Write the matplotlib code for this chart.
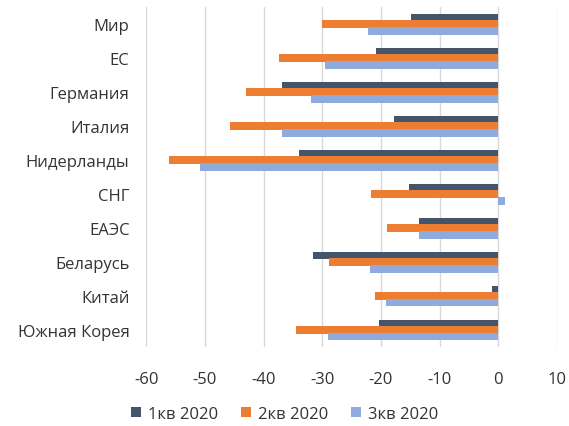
import numpy as np
import matplotlib
matplotlib.use("Agg")
import matplotlib.pyplot as plt

plt.rcParams['font.family'] = ['Open Sans', 'DejaVu Sans']
plt.rcParams['axes.unicode_minus'] = False

countries = ["Мир", "ЕС", "Германия", "Италия", "Нидерланды", "СНГ", "ЕАЭС",
             "Беларусь", "Китай", "Южная Корея"]
series_names = ["1кв 2020", "2кв 2020", "3кв 2020"]
q1 = [-14.9, -20.8, -36.9, -17.7, -33.9, -15.3, -13.6, -31.6, -1.0, -20.4]
q2 = [-30.1, -37.3, -43.0, -45.7, -56.1, -21.7, -19.0, -28.9, -21.1, -34.4]
q3 = [-22.2, -29.5, -32.0, -36.9, -50.9, 1.1, -13.6, -21.8, -19.1, -29.1]
colors = ["#44546A", "#ED7D31", "#8FAADC"]
txt = '#333333'

fig = plt.figure(figsize=(5.69, 4.27), dpi=100)
ax = fig.add_axes([0.257, 0.185, 0.722, 0.796])

y = np.arange(len(countries))
h = 0.2
for i, (vals, name, c) in enumerate(zip([q1, q2, q3], series_names, colors)):
    ax.barh(y + (i - 1) * h, vals, height=h * 1.08, color=c, label=name, zorder=2 + i)

ax.set_xlim(-60, 10)
ax.set_ylim(len(countries) - 0.5, -0.5)
ax.set_xticks(range(-60, 11, 10))
ax.set_yticks(y)
ax.set_yticklabels(countries)
ax.grid(axis='x', color='#D9D9D9', linewidth=1, zorder=0)
ax.set_axisbelow(True)
for s in ax.spines.values():
    s.set_visible(False)
ax.tick_params(axis='both', length=0, labelsize=12, colors=txt)
ax.tick_params(axis='x', pad=17)
ax.tick_params(axis='y', pad=12)

fig.legend(loc='lower center', bbox_to_anchor=(0.5, -0.025), ncol=3, frameon=False,
           fontsize=12, handlelength=0.6, handleheight=0.6, columnspacing=1.4,
           handletextpad=0.4, labelcolor=txt)

fig.savefig("out.png", dpi=100)
